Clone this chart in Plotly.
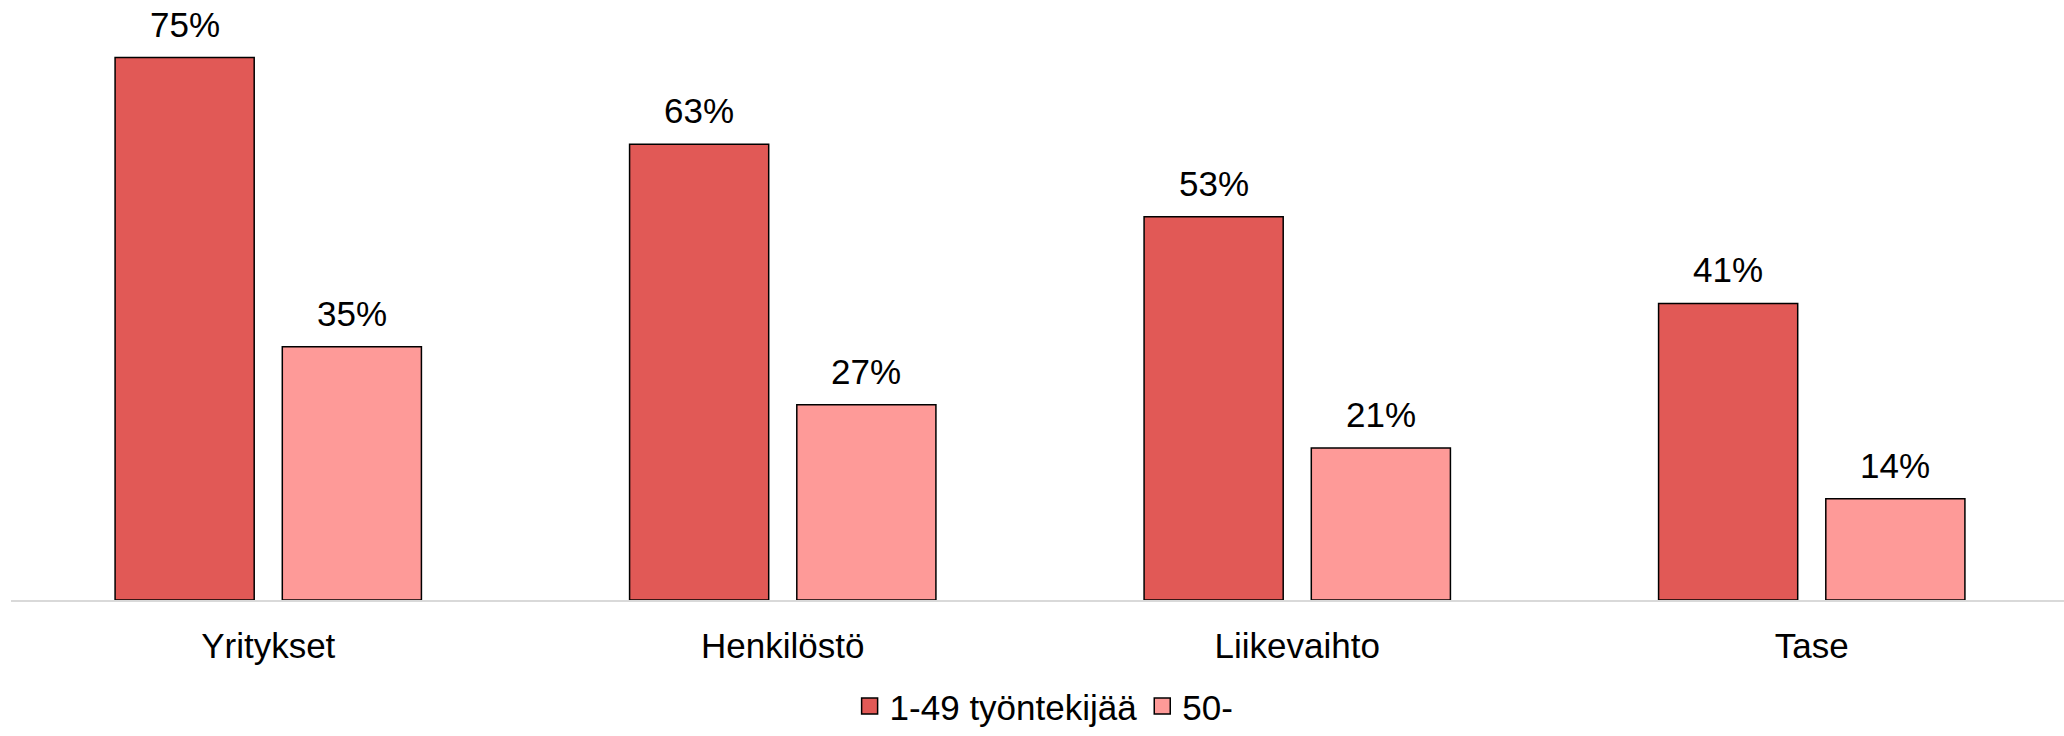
import plotly.graph_objects as go

categories = ["Yritykset", "Henkilöstö", "Liikevaihto", "Tase"]
small = [75, 63, 53, 41]
large = [35, 27, 21, 14]
series_names = ["1-49 työntekijää", "50-"]
colors = ["#E15956", "#FE9A98"]

FONT = "Liberation Sans, Arial, sans-serif"
fs = 35

fig = go.Figure()
for name, vals, col in zip(series_names, [small, large], colors):
    fig.add_trace(go.Bar(
        x=categories, y=vals, name=name, showlegend=False,
        marker=dict(color=col, line=dict(color="#000000", width=1.5)),
    ))

# legend entries with larger square symbols
for name, col in zip(series_names, colors):
    fig.add_trace(go.Scatter(
        x=[categories[0]], y=[None], name=name, mode="markers",
        marker=dict(symbol="square", size=18, color=col,
                    line=dict(color="#000000", width=1.5)),
        hoverinfo="skip",
    ))

# value labels
for i, vals in enumerate([small, large]):
    shift = -83.5 if i == 0 else 83.5
    for c, v in zip(categories, vals):
        fig.add_annotation(x=c, y=v, text=f"{v}%", showarrow=False,
                           xshift=shift, yshift=12, yanchor="bottom",
                           font=dict(family=FONT, size=fs, color="#000000"))

fig.update_layout(
    width=2069, height=736,
    margin=dict(l=11, r=0, t=0, b=131),
    paper_bgcolor="white", plot_bgcolor="white",
    barmode="group", bargap=0.35, bargroupgap=0.168,
    font=dict(family=FONT, size=fs, color="#000000"),
    showlegend=True,
    legend=dict(orientation="h", x=0.502, xanchor="center", y=-0.177, yanchor="middle",
                font=dict(family=FONT, size=fs, color="#000000"),
                itemsizing="trace", tracegroupgap=0, bgcolor="rgba(0,0,0,0)"),
)
fig.update_xaxes(showline=True, linecolor="#D9D9D9", linewidth=2, ticks="",
                 showgrid=False, ticklabelstandoff=14,
                 tickfont=dict(family=FONT, size=fs, color="#000000"))
fig.update_yaxes(range=[0, 82.95], visible=False, showgrid=False, zeroline=False)

fig.write_html("out.html", config={"displayModeBar": False},
               post_script="document.body.style.margin='0';document.body.style.overflow='hidden';")
